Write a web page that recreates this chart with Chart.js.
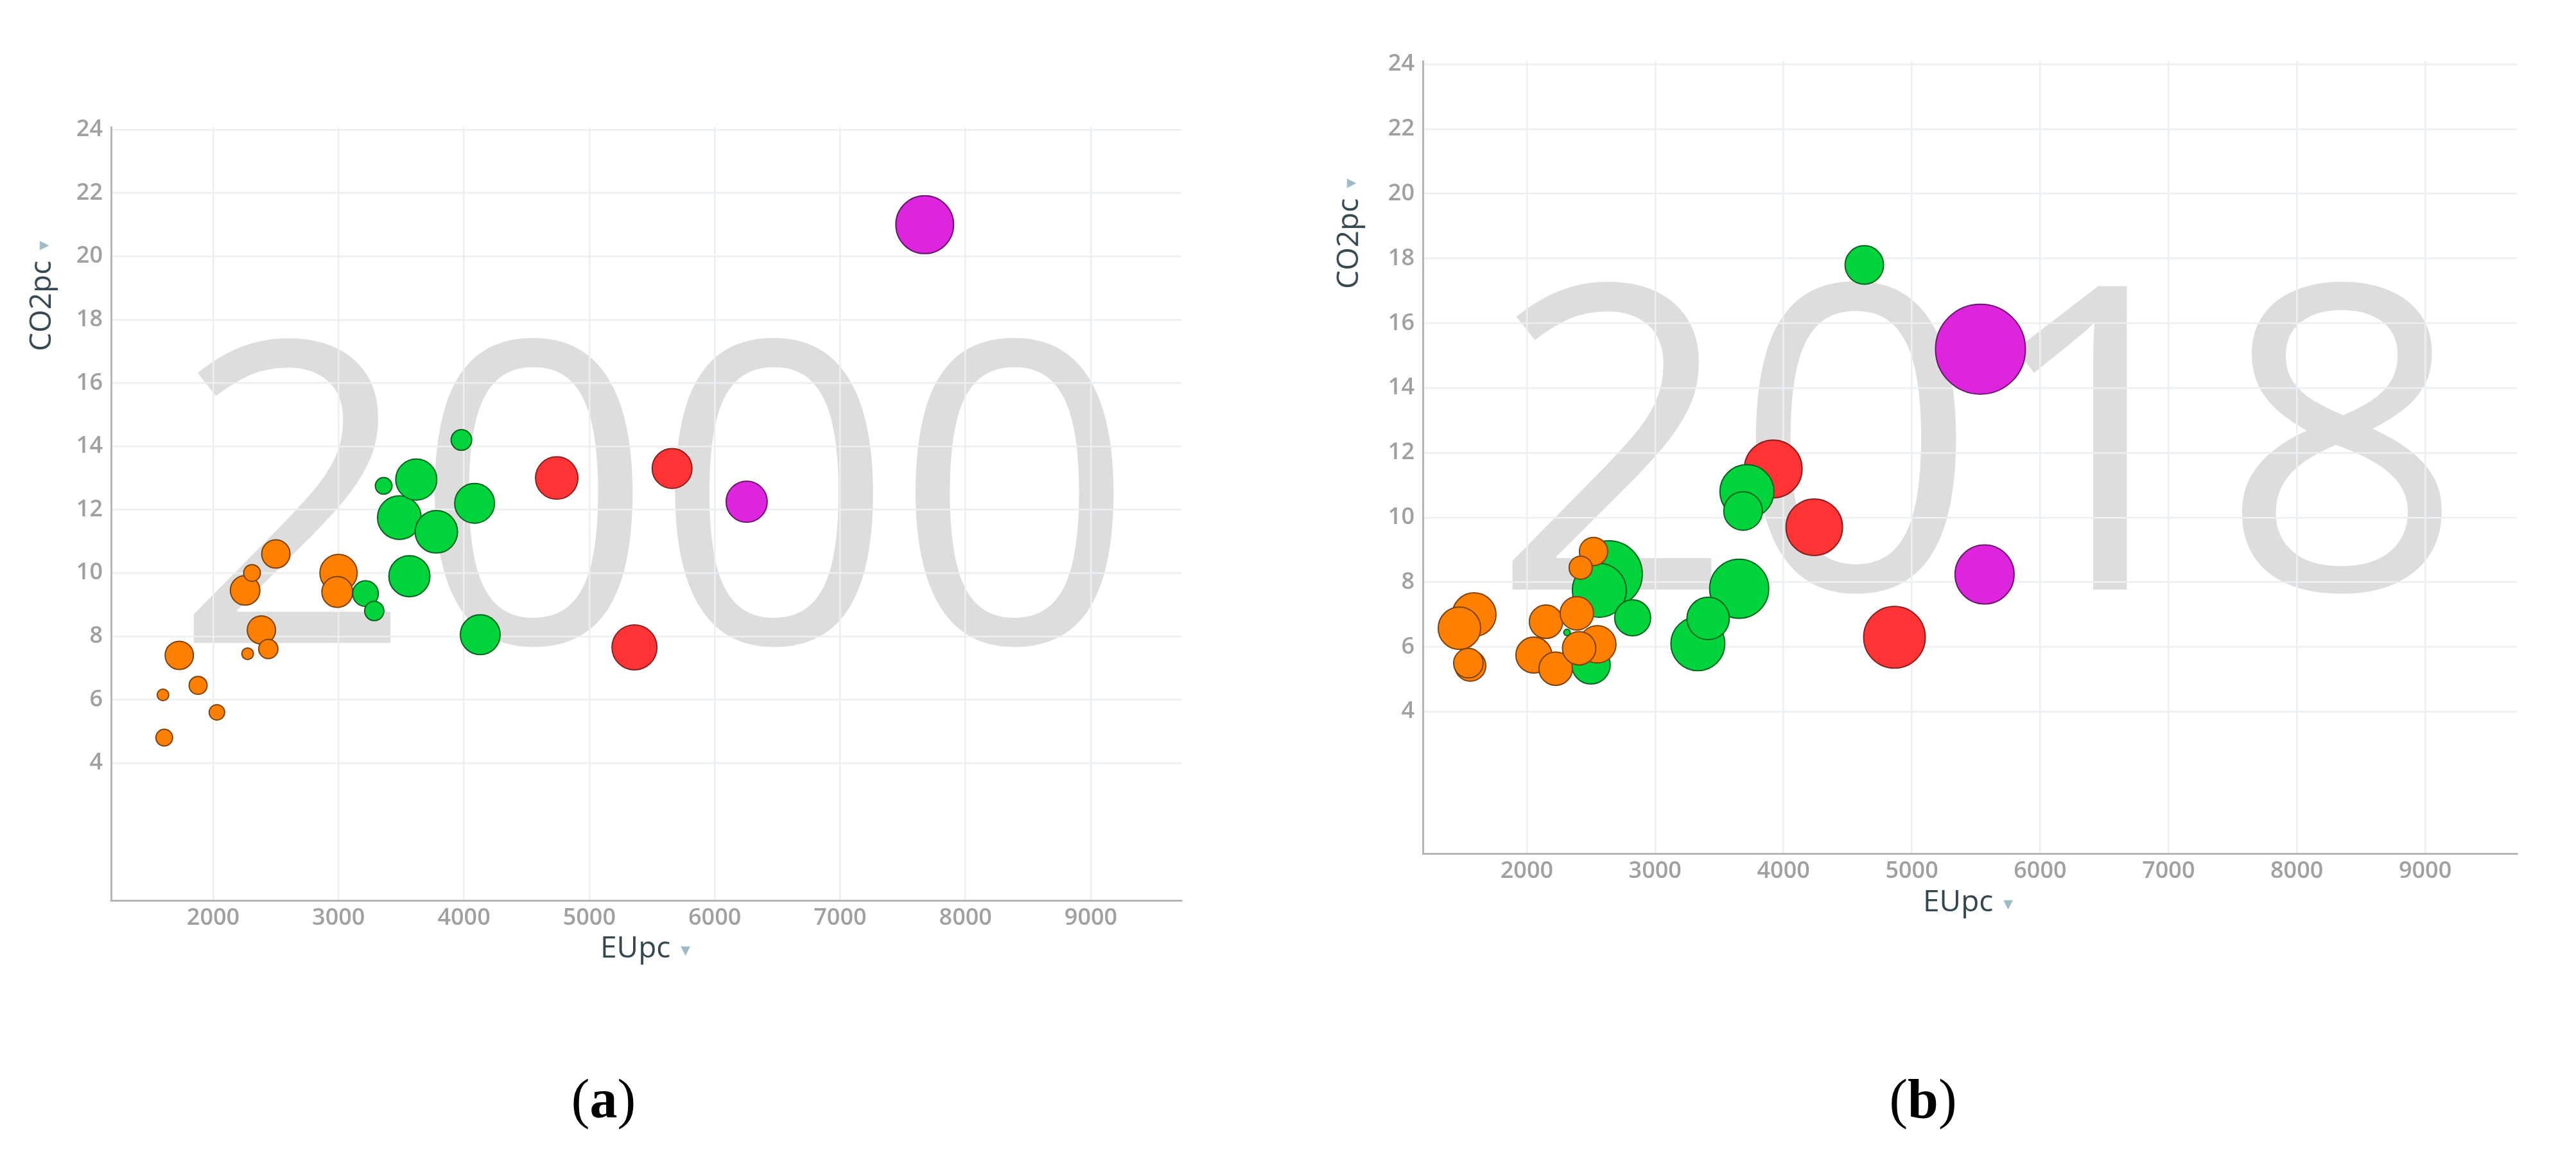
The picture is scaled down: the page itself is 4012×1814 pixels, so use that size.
<!DOCTYPE html>
<html>
<head>
<meta charset="utf-8">
<script src="https://cdn.jsdelivr.net/npm/chart.js@4.4.1/dist/chart.umd.min.js"></script>
<style>
  html, body { margin: 0; padding: 0; background: #fff; }
  body { width: 4012px; height: 1814px; position: relative; overflow: hidden; font-family: 'Open Sans', sans-serif; }
  canvas { position: absolute; }
  .xtitle, .ytitle { position: absolute; font-size: 46px; line-height: 46px; color: #34474f; white-space: nowrap; }
  .xtitle { transform: translateX(-50%); }
  .ytitle { transform: translate(-50%, -50%) rotate(-90deg); }
  .tri { font-family: 'DejaVu Sans', sans-serif; color: #9dbcc6; font-size: 19px; margin-left: 16px; vertical-align: middle; }
  .sub { position: absolute; width: 300px; text-align: center; font-family: 'Liberation Serif', 'Times New Roman', serif; font-size: 86px; line-height: 86px; color: #000; }
</style>
</head>
<body>
<canvas id="chart2000" width="1900" height="1560" style="left:0;top:0"></canvas>
<canvas id="chart2018" width="2012" height="1500" style="left:2000px;top:0"></canvas>

<div class="ytitle" style="left:64px;top:461px">CO2pc<span class="tri">▼</span></div>
<div class="xtitle" style="left:1005px;top:1450px">EUpc<span class="tri">▼</span></div>
<div class="ytitle" style="left:2100px;top:364px">CO2pc<span class="tri">▼</span></div>
<div class="xtitle" style="left:3065px;top:1378px">EUpc<span class="tri">▼</span></div>

<div class="sub" style="left:790px;top:1668px">(<b>a</b>)</div>
<div class="sub" style="left:2845px;top:1668px">(<b>b</b>)</div>

<script>
// tick values shared by both panels
const xTicks = [2000, 3000, 4000, 5000, 6000, 7000, 8000, 9000];
const yTicks = [4, 6, 8, 10, 12, 14, 16, 18, 20, 22, 24];

// (a) year 2000: energy use per capita, CO2 per capita, bubble size, colour group
const eu2000 = [1610, 1600, 1880, 2030, 1730, 2275, 2440, 2385, 2255, 2310, 2500, 3000, 2990,
                3215, 3285, 3565, 4130, 3360, 3620, 3485, 3780, 4085, 3980,
                4740, 5660, 5360,
                6255, 7675];
const co2_2000 = [4.8, 6.15, 6.45, 5.6, 7.4, 7.45, 7.6, 8.2, 9.45, 10.0, 10.6, 10.0, 9.4,
                  9.35, 8.8, 9.9, 8.05, 12.75, 12.95, 11.75, 11.3, 12.2, 14.2,
                  13.0, 13.3, 7.65,
                  12.25, 21.0];
const size2000 = [13, 9, 14, 12, 22, 9, 15, 22, 23, 13, 22, 29, 24,
                  20, 15, 32, 31, 13, 32, 34, 33, 31, 16,
                  33, 31, 35,
                  32, 45];
const group2000 = [0, 0, 0, 0, 0, 0, 0, 0, 0, 0, 0, 0, 0,
                   1, 1, 1, 1, 1, 1, 1, 1, 1, 1,
                   2, 2, 2,
                   3, 3];

// (b) year 2018
const eu2018 = [1475, 1590, 1545, 1560, 2055, 2150, 2390, 2225, 2408, 2550, 2420, 2520,
                2500, 2313, 2640, 2565, 2825, 3333, 3413, 3655, 3715, 3685, 4630,
                3920, 4240, 4865,
                5535, 5567];
const co2_2018 = [6.58, 7.0, 5.5, 5.42, 5.75, 6.78, 7.04, 5.33, 5.96, 6.08, 8.45, 8.95,
                  5.45, 6.45, 8.25, 7.75, 6.9, 6.1, 6.88, 7.8, 10.8, 10.2, 17.8,
                  11.5, 9.7, 6.3,
                  15.2, 8.24];
const size2018 = [33, 34, 23, 24, 28, 26, 26, 26, 26, 29, 18, 22,
                  30, 5, 52, 42, 28, 42, 33, 46, 42, 30, 30,
                  45, 44, 48,
                  70, 46];
const group2018 = [0, 0, 0, 0, 0, 0, 0, 0, 0, 0, 0, 0,
                   1, 1, 1, 1, 1, 1, 1, 1, 1, 1, 1,
                   2, 2, 2,
                   3, 3];

const fills = ['#ff8000', '#00d33c', '#ff3535', '#dc25dc'];
const strokes = ['#7d4208', '#02631f', '#8c1f1f', '#6a166c'];

// big grey year behind the bubbles
const yearMark = {
    id: 'yearMark',
    beforeDraw(chart, args, opts) {
        const a = chart.chartArea;
        const ctx = chart.ctx;
        ctx.save();
        ctx.font = '400 ' + opts.size + 'px "Open Sans"';
        ctx.fillStyle = '#dddddd';
        ctx.textAlign = 'center';
        ctx.textBaseline = 'alphabetic';
        ctx.fillText(opts.text, (a.left + a.right) / 2 + 12, a.top + (a.bottom - a.top) * 0.667);
        ctx.restore();
    }
};

function buildPoints(eu, co2, size, group) {
    // large bubbles first so small ones stay visible
    return eu.map((x, i) => ({ x: x, y: co2[i], r: size[i], g: group[i] }))
        .sort((p, q) => q.r - p.r);
}

function makeChart(id, points, year, o) {
    const tickFont = { family: 'Open Sans', size: 36, weight: '600' };
    new Chart(document.getElementById(id), {
        type: 'bubble',
        data: {
            datasets: [{
                data: points,
                backgroundColor: ctx => ctx.raw ? fills[ctx.raw.g] : fills[0],
                borderColor: ctx => ctx.raw ? strokes[ctx.raw.g] : strokes[0],
                borderWidth: 2
            }]
        },
        options: {
            responsive: false,
            animation: false,
            events: [],
            layout: { padding: { left: 0, top: o.top, right: o.right, bottom: 0 } },
            plugins: {
                legend: { display: false },
                tooltip: { enabled: false },
                yearMark: { text: year, size: o.yearSize }
            },
            scales: {
                x: {
                    type: 'linear',
                    min: o.xMin,
                    max: o.xMax,
                    afterBuildTicks: s => { s.ticks = xTicks.map(v => ({ value: v })); },
                    afterFit: s => { s.height = o.xHeight; },
                    grid: { color: '#eceff1', lineWidth: 2.5, drawTicks: false },
                    border: { color: '#b5b5b5', width: 3 },
                    ticks: { padding: 6, color: '#a0a0a0', font: tickFont, autoSkip: false, maxRotation: 0,
                             callback: v => String(v) }
                },
                y: {
                    type: 'linear',
                    min: o.yMin,
                    max: o.yMax,
                    afterBuildTicks: s => { s.ticks = yTicks.map(v => ({ value: v })); },
                    afterFit: s => { s.width = o.yWidth; },
                    grid: { color: '#eceff1', lineWidth: 2.5, drawTicks: false },
                    border: { color: '#b5b5b5', width: 3 },
                    ticks: { padding: 13, color: '#a0a0a0', font: tickFont, autoSkip: false,
                             callback: v => String(v) }
                }
            }
        },
        plugins: [yearMark]
    });
}

makeChart('chart2000', buildPoints(eu2000, co2_2000, size2000, group2000), '2000', {
    top: 198, right: 60, xHeight: 158, yWidth: 173,
    xMin: 1186, xMax: 9722, yMin: -0.34, yMax: 24.08, yearSize: 655
});

makeChart('chart2018', buildPoints(eu2018, co2_2018, size2018, group2018), '2018', {
    top: 95, right: 92, xHeight: 171, yWidth: 216,
    xMin: 1190, xMax: 9715, yMin: -0.38, yMax: 24.1, yearSize: 662
});
</script>
</body>
</html>
